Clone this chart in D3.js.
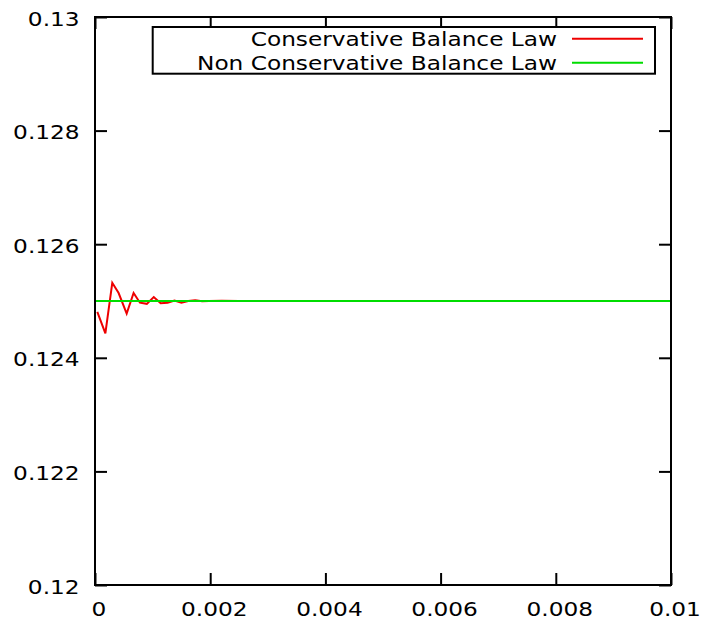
<!DOCTYPE html>
<html>
<head>
<meta charset="utf-8">
<script src="https://cdn.jsdelivr.net/npm/d3@7"></script>
<style>
  body { margin: 0; background: #fff; }
  text { font-family: "DejaVu Sans", sans-serif; font-size: 19.7px; fill: #000; }
</style>
</head>
<body>
<div id="chart"></div>
<script>
// data
var consTime = [0.00004, 0.00018, 0.0003, 0.00041, 0.00055, 0.00067, 0.00078, 0.0009,
  0.00102, 0.00114, 0.00126, 0.00138, 0.0015, 0.00162, 0.00174, 0.00186, 0.00198,
  0.0022, 0.0025, 0.0028, 0.004, 0.006, 0.008, 0.01];
var consValue = [0.12481, 0.12443, 0.12532, 0.12514, 0.12478, 0.12514, 0.12497, 0.12495,
  0.12507, 0.12496, 0.12497, 0.12501, 0.12497, 0.125, 0.125015, 0.124995, 0.125,
  0.125005, 0.125, 0.125, 0.125, 0.125, 0.125, 0.125];
var nonConsTime = [0, 0.002, 0.004, 0.006, 0.008, 0.01];
var nonConsValue = [0.125, 0.125, 0.125, 0.125, 0.125, 0.125];
var xTicks = [0, 0.002, 0.004, 0.006, 0.008, 0.01];
var xTickLabels = ["0", "0.002", "0.004", "0.006", "0.008", "0.01"];
var yTicks = [0.12, 0.122, 0.124, 0.126, 0.128, 0.13];
var yTickLabels = ["0.12", "0.122", "0.124", "0.126", "0.128", "0.13"];
var seriesNames = ["Conservative Balance Law", "Non Conservative Balance Law"];
var seriesColors = ["#ee0000", "#00dd00"];

var W = 702, H = 621;
var margin = { top: 17, right: 31, bottom: 36, left: 95 },
  width = W - margin.left - margin.right,
  height = H - margin.top - margin.bottom;
var stretch = 1.18; // text in the picture is wider than normal

var svg = d3.select("#chart").append("svg")
  .attr("width", W)
  .attr("height", H)
  .append("g")
  .attr("transform", "translate(" + margin.left + "," + margin.top + ")");

var x = d3.scaleLinear().domain([0, 0.01]).range([0, width]);
var y = d3.scaleLinear().domain([0.12, 0.13]).range([height, 0]);

// bottom axis with labels, ticks pointing inward
var xAxis = svg.append("g")
  .attr("transform", "translate(0," + height + ")")
  .call(d3.axisBottom(x).tickValues(xTicks).tickSize(-12).tickSizeOuter(0)
    .tickFormat(function (d, i) { return xTickLabels[i]; }));
xAxis.select(".domain").remove();
xAxis.selectAll("line").attr("stroke-width", 2);
xAxis.selectAll("text")
  .attr("y", 31.5).attr("dy", 0)
  .attr("x", 3.5 / stretch)
  .attr("transform", "scale(" + stretch + ",1)")
  .style("font-size", "19.7px").style("font-family", "DejaVu Sans");

// top mirror ticks
var xTop = svg.append("g")
  .call(d3.axisTop(x).tickValues(xTicks).tickSize(-12).tickSizeOuter(0).tickFormat(""));
xTop.select(".domain").remove();
xTop.selectAll("line").attr("stroke-width", 2);

// left axis
var yAxis = svg.append("g")
  .call(d3.axisLeft(y).tickValues(yTicks).tickSize(-12).tickSizeOuter(0)
    .tickFormat(function (d, i) { return yTickLabels[i]; }));
yAxis.select(".domain").remove();
yAxis.selectAll("line").attr("stroke-width", 2);
yAxis.selectAll("text")
  .attr("x", -15.4 / stretch).attr("dy", 0).attr("y", 8)
  .attr("transform", "scale(" + stretch + ",1)")
  .style("font-size", "19.7px").style("font-family", "DejaVu Sans");

// right mirror ticks
var yRight = svg.append("g")
  .attr("transform", "translate(" + width + ",0)")
  .call(d3.axisRight(y).tickValues(yTicks).tickSize(-12).tickSizeOuter(0).tickFormat(""));
yRight.select(".domain").remove();
yRight.selectAll("line").attr("stroke-width", 2);

// lines
var line = d3.line()
  .x(function (d) { return x(d[0]); })
  .y(function (d) { return y(d[1]); });

var dataset = [
  consTime.map(function (t, i) { return [t, consValue[i]]; }),
  nonConsTime.map(function (t, i) { return [t, nonConsValue[i]]; })
];

svg.selectAll(".series")
  .data(dataset)
  .enter()
  .append("path")
  .attr("fill", "none")
  .attr("stroke", function (d, i) { return seriesColors[i]; })
  .attr("stroke-width", 2)
  .attr("d", line);

// frame
svg.append("rect")
  .attr("width", width)
  .attr("height", height)
  .attr("fill", "none")
  .attr("stroke", "#000")
  .attr("stroke-width", 2);

// legend
var lg = svg.append("g").attr("transform", "translate(" + (-margin.left) + "," + (-margin.top) + ")");
lg.append("rect")
  .attr("x", 152.7).attr("y", 27)
  .attr("width", 502.3).attr("height", 46.7)
  .attr("fill", "#fff")
  .attr("stroke", "#000")
  .attr("stroke-width", 2);

seriesNames.forEach(function (name, i) {
  var cy = 38.7 + i * 24;
  lg.append("text")
    .attr("x", 557 / stretch)
    .attr("y", cy + 7.3)
    .attr("text-anchor", "end")
    .attr("transform", "scale(" + stretch + ",1)")
    .text(name);
  lg.append("line")
    .attr("x1", 572).attr("x2", 643)
    .attr("y1", cy).attr("y2", cy)
    .attr("stroke", seriesColors[i])
    .attr("stroke-width", 2);
});
</script>
</body>
</html>
